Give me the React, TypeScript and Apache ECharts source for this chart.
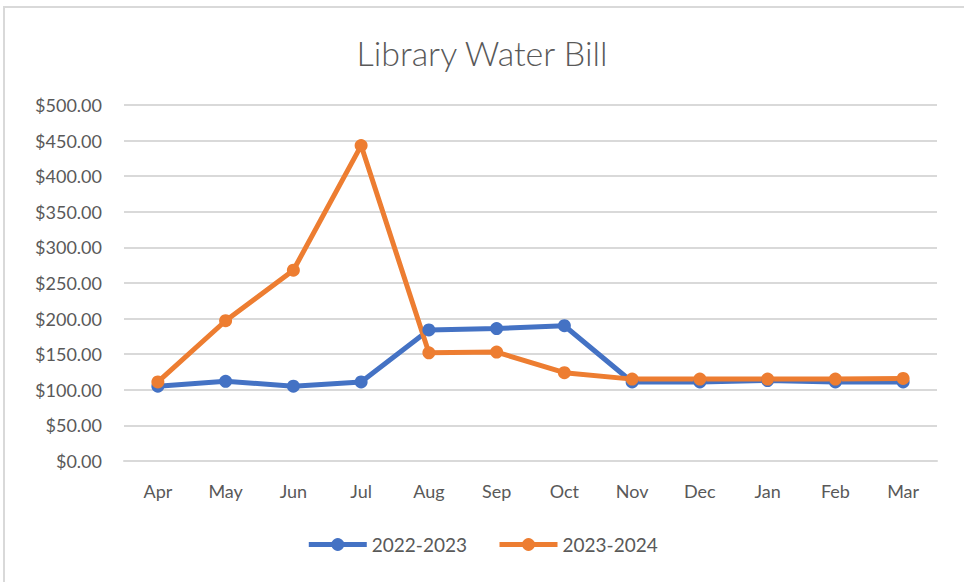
import React, { useEffect, useRef } from "react";
import * as echarts from "echarts";

const months = ["Apr", "May", "Jun", "Jul", "Aug", "Sep", "Oct", "Nov", "Dec", "Jan", "Feb", "Mar"];
const fy2022 = [105, 112, 105, 111, 184, 186, 190, 111, 111, 113, 111, 111];
const fy2023 = [111, 197, 268, 443, 152, 153, 124, 115, 115, 115, 115, 116];
const seriesNames = ["2022-2023", "2023-2024"];
const titleText = "Library Water Bill";

export default function App() {
  const ref = useRef<HTMLDivElement>(null);
  useEffect(() => {
    document.body.style.margin = "0";
    const chart = echarts.init(ref.current!, null, { renderer: "svg" });
    const font = "Lato, 'Open Sans', sans-serif";
    chart.setOption({
      animation: false,
      backgroundColor: "#ffffff",
      title: {
        text: titleText,
        left: "center",
        top: 30,
        textStyle: { fontFamily: font, fontSize: 34, fontWeight: 300, color: "#595959" },
      },
      graphic: [
        {
          type: "rect",
          shape: { x: 4, y: 7, width: 980, height: 600 },
          style: { fill: "none", stroke: "#d9d9d9", lineWidth: 2 },
          silent: true,
        },
      ],
      legend: {
        bottom: 23,
        left: "center",
        itemWidth: 58,
        itemHeight: 16,
        itemGap: 30,
        lineStyle: { width: 5 },
        textStyle: { fontFamily: font, fontSize: 19, color: "#595959" },
        data: seriesNames,
      },
      grid: { left: 124, right: 27, top: 105, bottom: 121, containLabel: false },
      xAxis: {
        type: "category",
        data: months,
        boundaryGap: true,
        axisLine: { show: true, lineStyle: { color: "#d9d9d9", width: 2 } },
        axisTick: { show: false },
        axisLabel: { fontFamily: font, fontSize: 18, color: "#595959", margin: 21 },
      },
      yAxis: {
        type: "value",
        min: 0,
        max: 500,
        interval: 50,
        axisLine: { show: false },
        axisTick: { show: false },
        splitLine: { lineStyle: { color: "#d9d9d9", width: 2 } },
        axisLabel: {
          fontFamily: font,
          fontSize: 18,
          color: "#595959",
          margin: 22,
          formatter: (v: number) => "$" + v.toFixed(2),
        },
      },
      series: [
        {
          name: seriesNames[0],
          type: "line",
          data: fy2022,
          symbol: "circle",
          symbolSize: 13,
          lineStyle: { width: 5, color: "#4472c4" },
          itemStyle: { color: "#4472c4" },
        },
        {
          name: seriesNames[1],
          type: "line",
          data: fy2023,
          symbol: "circle",
          symbolSize: 13,
          lineStyle: { width: 5, color: "#ed7d31" },
          itemStyle: { color: "#ed7d31" },
        },
      ],
    });
    return () => chart.dispose();
  }, []);
  return <div ref={ref} style={{ position: "fixed", left: 0, top: 0, width: 964, height: 582 }} />;
}
